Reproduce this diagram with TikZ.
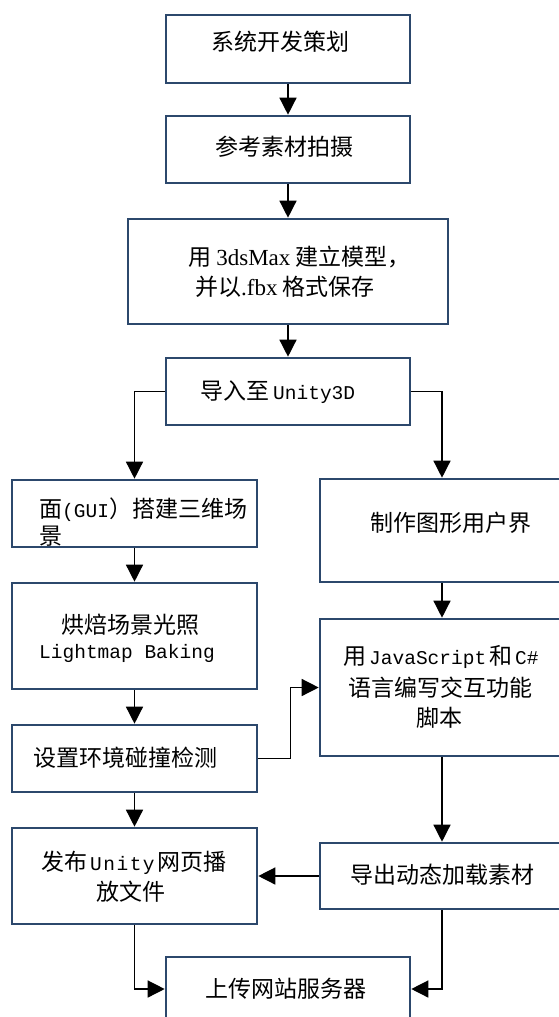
\documentclass[tikz,border=0pt]{standalone}
\usepackage{fontspec}
\newfontfamily\cjk{Noto Sans CJK SC}
\newfontfamily\monolat{Liberation Mono}
\newfontfamily\serlat{Liberation Serif}
\usetikzlibrary{arrows.meta}
\newcommand{\mylat}[1]{{\fontsize{19.5}{28}\selectfont\monolat #1}}
\newcommand{\mytm}[1]{{\serlat #1}}
\definecolor{boxblue}{RGB}{44,72,108}
\begin{document}
\begin{tikzpicture}[x=1pt,y=-1pt,
  box/.style={draw=boxblue, line width=2.6pt, fill=white, rectangle, inner sep=0pt},
  txt/.style={anchor=west, inner sep=0pt, font=\fontsize{23}{28}\selectfont\cjk},
  arr/.style={draw=black, line width=1.4pt, -{Triangle[width=17pt,length=17pt]}}]
\fill[white] (0,0) rectangle (558,1017);
\useasboundingbox (0,0) rectangle (558,1017);
% boxes
\node[box, minimum width=244pt, minimum height=68pt] (b1) at (288,49) {};
\node[box, minimum width=244pt, minimum height=67pt] (b2) at (288,149.5) {};
\node[box, minimum width=320pt, minimum height=105pt] (b3) at (288,271.5) {};
\node[box, minimum width=244pt, minimum height=67pt] (b4) at (288,391.5) {};
\node[box, minimum width=245pt, minimum height=67pt] (b5) at (134.5,513.5) {};
\node[box, minimum width=244pt, minimum height=103pt] (b6) at (442,530.5) {};
\node[box, minimum width=245pt, minimum height=106pt] (b7) at (134.5,636) {};
\node[box, minimum width=244pt, minimum height=137pt] (b8) at (442,687.5) {};
\node[box, minimum width=245pt, minimum height=67pt] (b9) at (134.5,758.5) {};
\node[box, minimum width=245pt, minimum height=96pt] (b10) at (134.5,876) {};
\node[box, minimum width=244pt, minimum height=66pt] (b11) at (442,876) {};
\node[box, minimum width=244pt, minimum height=64pt] (b12) at (288,989) {};
% texts
\node[txt] (t1) at (211,42) {系统开发策划};
\node[txt] (t2) at (215,147) {参考素材拍摄};
\node[txt] (t3a) at (188,257) {用 \mytm{3dsMax} 建立模型，};
\node[txt] (t3b) at (195,287) {并以\mytm{.fbx} 格式保存};
\node[txt] (t4) at (200,392) {导入至\hspace{4pt}\mylat{Unity3D}};
\node[txt] (t5a) at (39,510) {面\mylat{(GUI}）搭建三维场};
\node[txt] (t5b) at (39,536) {景};
\node[txt] (t6) at (370,523) {制作图形用户界};
\node[txt] (t7a) at (61,625) {烘焙场景光照};
\node[txt] (t7b) at (39,653) {\mylat{Lightmap Baking}};
\node[txt] (t8a) at (343,657) {用\hspace{3pt}\mylat{JavaScript}\hspace{3pt}和\hspace{3pt}\mylat{C\#}};
\node[txt] (t8b) at (348,688) {语言编写交互功能};
\node[txt] (t8c) at (416,718) {脚本};
\node[txt] (t9) at (33,758) {设置环境碰撞检测};
\node[txt] (t10a) at (41,863) {发布\hspace{3pt}\mylat{U\hspace{1.5pt}n\hspace{1.5pt}i\hspace{1.5pt}t\hspace{1.5pt}y}\hspace{3pt}网页播};
\node[txt] (t10b) at (96,892) {放文件};
\node[txt] (t11) at (350,875) {导出动态加载素材};
\node[txt] (t12) at (205,989) {上传网站服务器};
% connectors
\draw[arr] (b1) -- (b2);
\draw[arr] (b2) -- (b3);
\draw[arr] (b3) -- (b4);
\draw[arr] (b4.west) -| (b5.north);
\draw[arr] (b4.east) -| (b6.north);
\draw[arr] (b5) -- (b7);
\draw[arr] (b6) -- (b8);
\draw[arr] (b7) -- (b9);
\draw[arr] (b9.east) -- ++(32,0) |- (b8.west);
\draw[arr] (b9) -- (b10);
\draw[arr] (b8) -- (b11);
\draw[arr] (b11) -- (b10);
\draw[arr] (b10.south) |- (b12.west);
\draw[arr] (b11.south) |- (b12.east);
\end{tikzpicture}
\end{document}
